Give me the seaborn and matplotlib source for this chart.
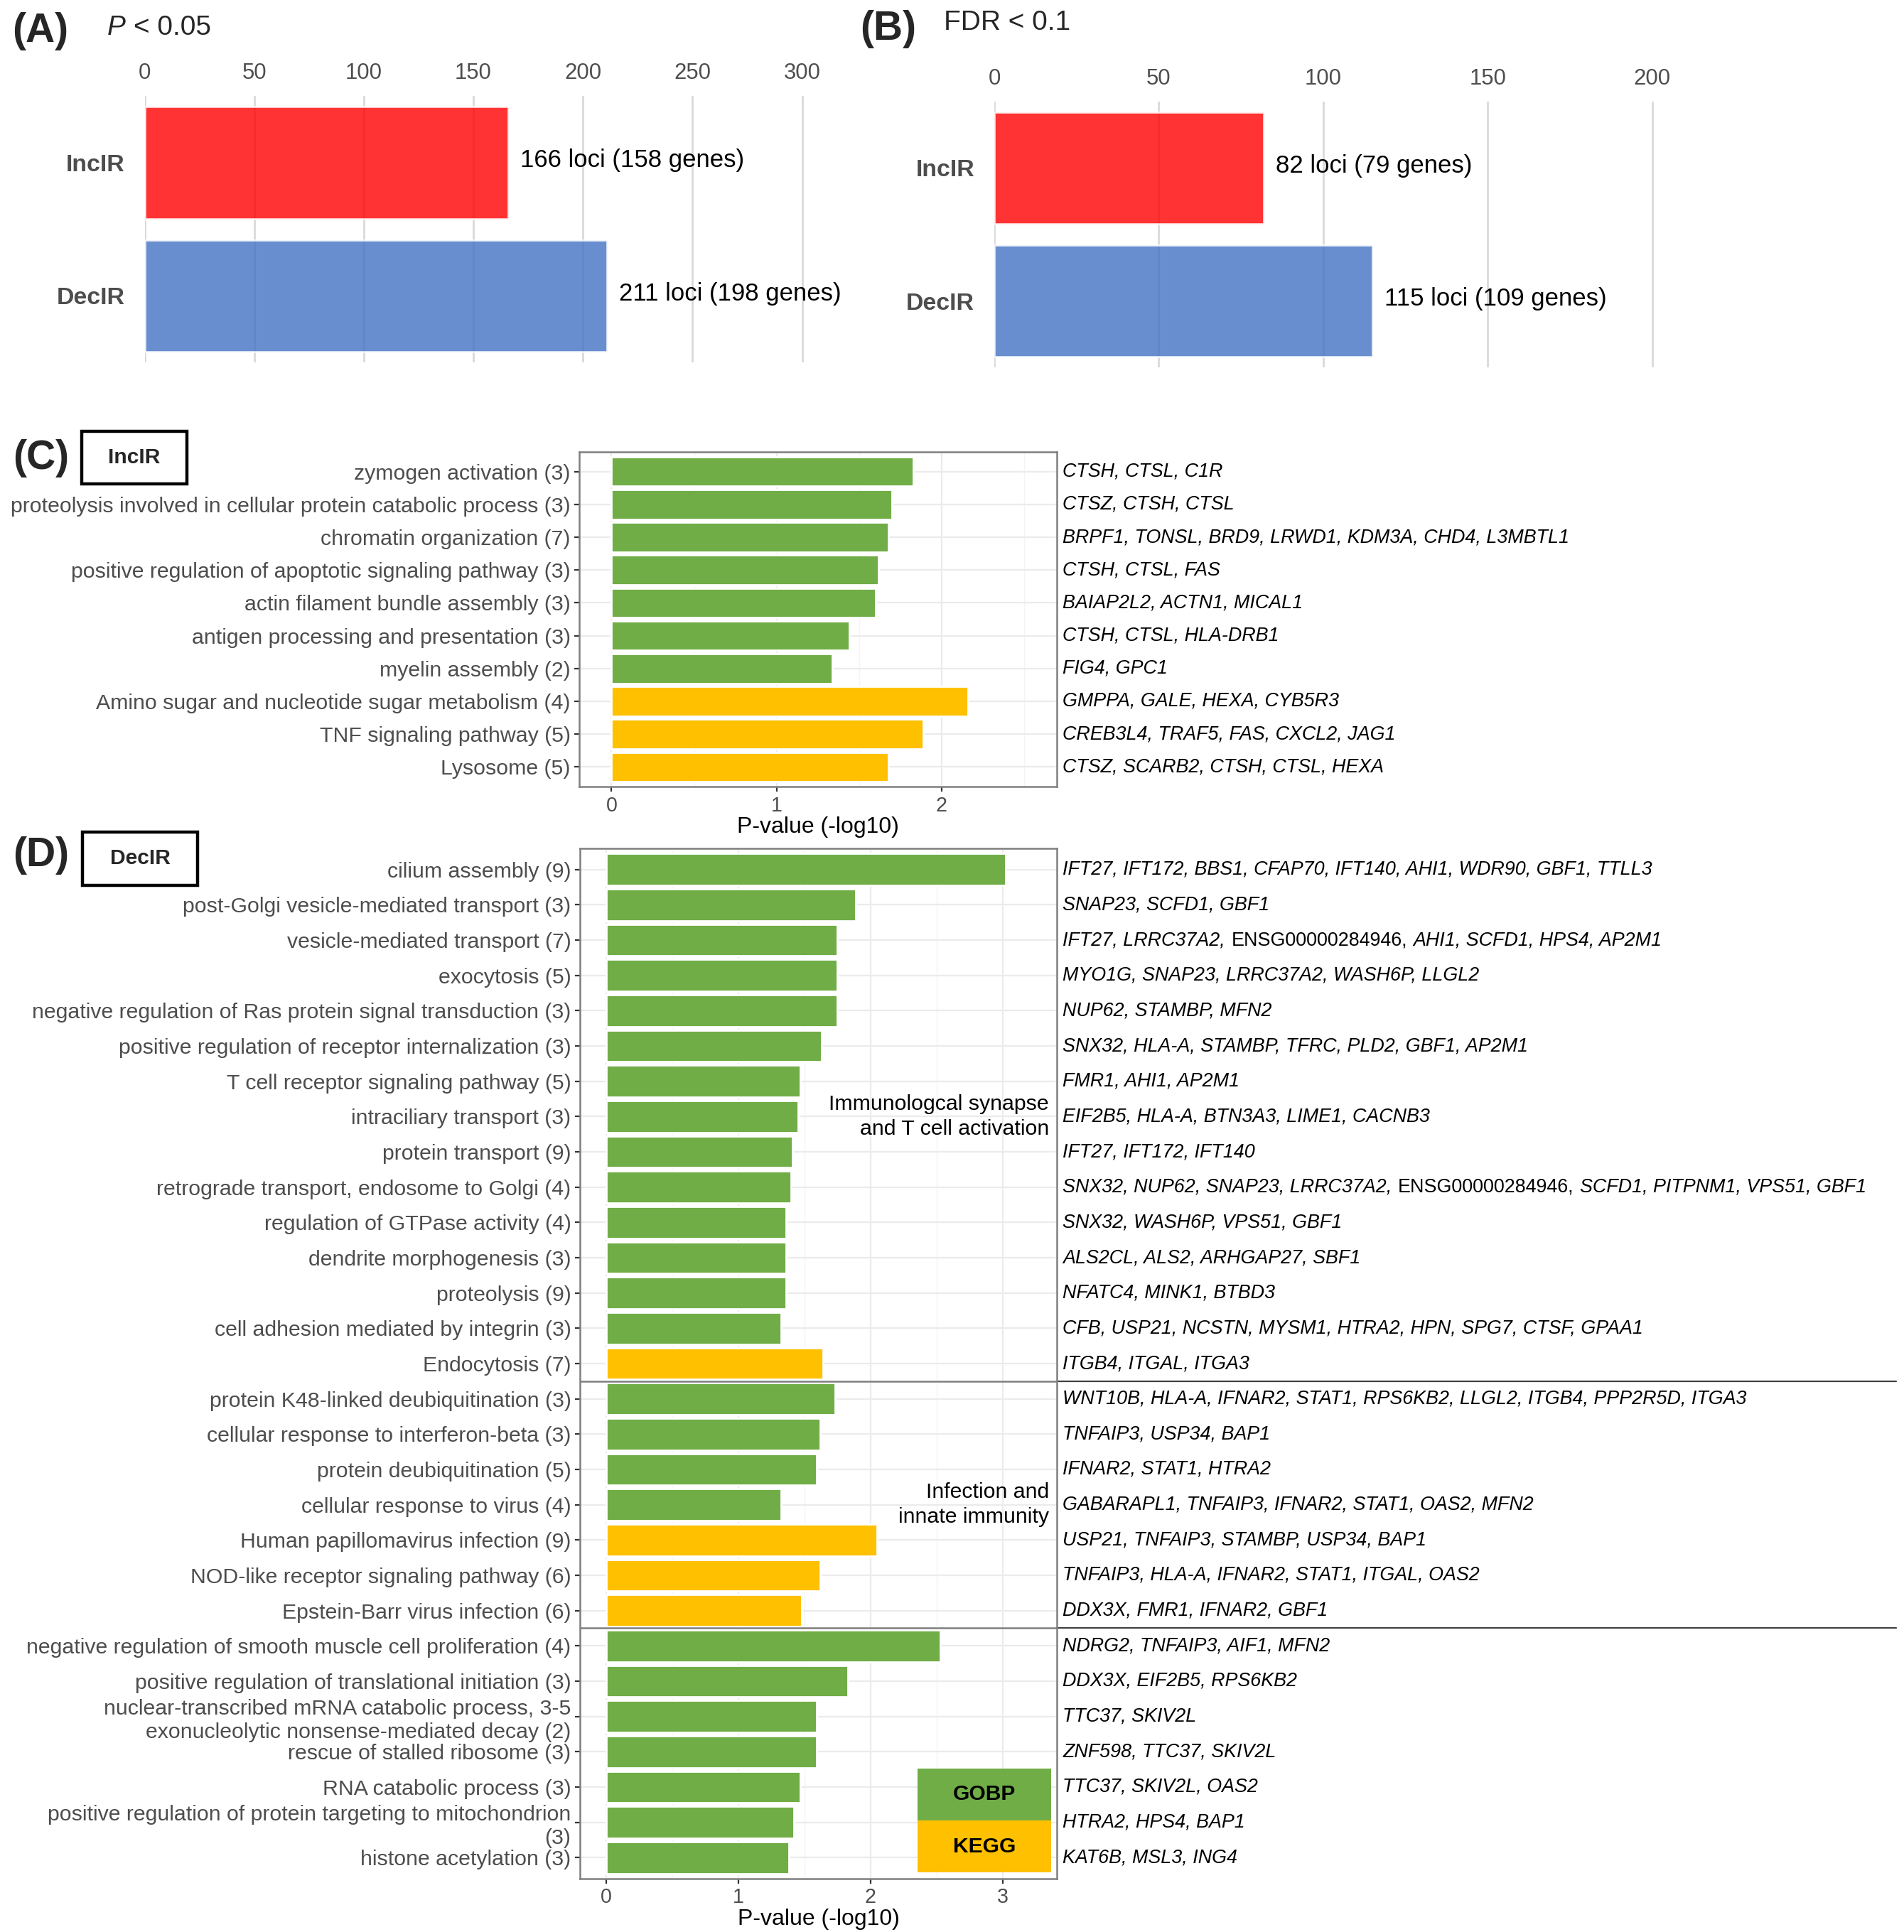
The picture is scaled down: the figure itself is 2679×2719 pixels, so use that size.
import numpy as np
import pandas as pd
import matplotlib
matplotlib.use("Agg")
import matplotlib.pyplot as plt
import matplotlib.transforms as mtransforms
from matplotlib.patches import Rectangle
import seaborn as sns

# ---- data: panels A and B ----
groups = ["IncIR", "DecIR"]
p_loci = [166, 211]
p_genes = [158, 198]
fdr_loci = [82, 115]
fdr_genes = [79, 109]

# ---- data: panel C (IncIR enrichment) ----
inc_terms = [
    "zymogen activation (3)",
    "proteolysis involved in cellular protein catabolic process (3)",
    "chromatin organization (7)",
    "positive regulation of apoptotic signaling pathway (3)",
    "actin filament bundle assembly (3)",
    "antigen processing and presentation (3)",
    "myelin assembly (2)",
    "Amino sugar and nucleotide sugar metabolism (4)",
    "TNF signaling pathway (5)",
    "Lysosome (5)",
]
inc_values = [1.83, 1.70, 1.68, 1.62, 1.60, 1.44, 1.34, 2.16, 1.89, 1.68]
inc_source = ["GOBP"] * 7 + ["KEGG"] * 3
inc_genes = [
    "CTSH, CTSL, C1R",
    "CTSZ, CTSH, CTSL",
    "BRPF1, TONSL, BRD9, LRWD1, KDM3A, CHD4, L3MBTL1",
    "CTSH, CTSL, FAS",
    "BAIAP2L2, ACTN1, MICAL1",
    "CTSH, CTSL, HLA-DRB1",
    "FIG4, GPC1",
    "GMPPA, GALE, HEXA, CYB5R3",
    "CREB3L4, TRAF5, FAS, CXCL2, JAG1",
    "CTSZ, SCARB2, CTSH, CTSL, HEXA",
]

# ---- data: panel D (DecIR enrichment) ----
dec_terms = [
    "cilium assembly (9)",
    "post-Golgi vesicle-mediated transport (3)",
    "vesicle-mediated transport (7)",
    "exocytosis (5)",
    "negative regulation of Ras protein signal transduction (3)",
    "positive regulation of receptor internalization (3)",
    "T cell receptor signaling pathway (5)",
    "intraciliary transport (3)",
    "protein transport (9)",
    "retrograde transport, endosome to Golgi (4)",
    "regulation of GTPase activity (4)",
    "dendrite morphogenesis (3)",
    "proteolysis (9)",
    "cell adhesion mediated by integrin (3)",
    "Endocytosis (7)",
    "protein K48-linked deubiquitination (3)",
    "cellular response to interferon-beta (3)",
    "protein deubiquitination (5)",
    "cellular response to virus (4)",
    "Human papillomavirus infection (9)",
    "NOD-like receptor signaling pathway (6)",
    "Epstein-Barr virus infection (6)",
    "negative regulation of smooth muscle cell proliferation (4)",
    "positive regulation of translational initiation (3)",
    "nuclear-transcribed mRNA catabolic process, 3-5\nexonucleolytic nonsense-mediated decay (2)",
    "rescue of stalled ribosome (3)",
    "RNA catabolic process (3)",
    "positive regulation of protein targeting to mitochondrion\n(3)",
    "histone acetylation (3)",
]
dec_values = [3.02, 1.89, 1.75, 1.75, 1.75, 1.63, 1.47, 1.45, 1.41, 1.40,
              1.36, 1.36, 1.36, 1.32, 1.64,
              1.73, 1.62, 1.59, 1.32, 2.05, 1.62, 1.48,
              2.53, 1.83, 1.59, 1.59, 1.47, 1.42, 1.38]
dec_source = (["GOBP"] * 14 + ["KEGG"]
              + ["GOBP"] * 4 + ["KEGG"] * 3
              + ["GOBP"] * 7)
dec_genes = [
    "IFT27, IFT172, BBS1, CFAP70, IFT140, AHI1, WDR90, GBF1, TTLL3",
    "SNAP23, SCFD1, GBF1",
    "IFT27, LRRC37A2, ENSG00000284946, AHI1, SCFD1, HPS4, AP2M1",
    "MYO1G, SNAP23, LRRC37A2, WASH6P, LLGL2",
    "NUP62, STAMBP, MFN2",
    "SNX32, HLA-A, STAMBP, TFRC, PLD2, GBF1, AP2M1",
    "FMR1, AHI1, AP2M1",
    "EIF2B5, HLA-A, BTN3A3, LIME1, CACNB3",
    "IFT27, IFT172, IFT140",
    "SNX32, NUP62, SNAP23, LRRC37A2, ENSG00000284946, SCFD1, PITPNM1, VPS51, GBF1",
    "SNX32, WASH6P, VPS51, GBF1",
    "ALS2CL, ALS2, ARHGAP27, SBF1",
    "NFATC4, MINK1, BTBD3",
    "CFB, USP21, NCSTN, MYSM1, HTRA2, HPN, SPG7, CTSF, GPAA1",
    "ITGB4, ITGAL, ITGA3",
    "WNT10B, HLA-A, IFNAR2, STAT1, RPS6KB2, LLGL2, ITGB4, PPP2R5D, ITGA3",
    "TNFAIP3, USP34, BAP1",
    "IFNAR2, STAT1, HTRA2",
    "GABARAPL1, TNFAIP3, IFNAR2, STAT1, OAS2, MFN2",
    "USP21, TNFAIP3, STAMBP, USP34, BAP1",
    "TNFAIP3, HLA-A, IFNAR2, STAT1, ITGAL, OAS2",
    "DDX3X, FMR1, IFNAR2, GBF1",
    "NDRG2, TNFAIP3, AIF1, MFN2",
    "DDX3X, EIF2B5, RPS6KB2",
    "TTC37, SKIV2L",
    "ZNF598, TTC37, SKIV2L",
    "TTC37, SKIV2L, OAS2",
    "HTRA2, HPS4, BAP1",
    "KAT6B, MSL3, ING4",
]
dec_cluster_sizes = [15, 7, 7]
dec_cluster_names = ["Immunologcal synapse\nand T cell activation",
                     "Infection and\ninnate immunity", ""]

source_colors = {"GOBP": "#70AD47", "KEGG": "#FFC000"}
group_colors = ["#FF0000", "#4472C4"]

W, H, DPI = 2679, 2719, 200

sns.set_theme(style="white")
plt.rcParams["font.family"] = ["Liberation Sans", "DejaVu Sans"]

fig = plt.figure(figsize=(W / DPI, H / DPI), dpi=DPI)


def add_axes_px(left, top, right, bottom):
    return fig.add_axes([left / W, 1 - bottom / H, (right - left) / W, (bottom - top) / H])


def count_panel(ax, loci, genes, xlim, xticks):
    df = pd.DataFrame({"group": groups, "loci": loci})
    sns.barplot(data=df, x="loci", y="group", hue="group", palette=group_colors,
                saturation=1, alpha=0.8, width=0.84, legend=False, ax=ax)
    ax.set_xlim(*xlim)
    ax.set_ylim(1.5, -0.5)
    ax.set_xticks(xticks)
    ax.xaxis.tick_top()
    ax.tick_params(axis="x", length=0, labelsize=11.2, labelcolor="#4D4D4D", pad=6)
    ax.tick_params(axis="y", length=0, labelsize=12.2, labelcolor="#4D4D4D", pad=10)
    for lbl in ax.get_yticklabels():
        lbl.set_fontweight("bold")
    ax.xaxis.grid(True, color="#D9D9D9", lw=1.0)
    ax.yaxis.grid(False)
    ax.set_axisbelow(True)
    for s in ax.spines.values():
        s.set_visible(False)
    ax.set_xlabel("")
    ax.set_ylabel("")
    for i, (l, g) in enumerate(zip(loci, genes)):
        ax.annotate(f"{l} loci ({g} genes)", xy=(l, i), xytext=(6, 1),
                    textcoords="offset points", va="center", fontsize=12.5, color="black")


def gene_pieces(genes):
    tokens = genes.split(", ")
    pieces = []
    for i, tok in enumerate(tokens):
        txt = tok + ("," if i < len(tokens) - 1 else "")
        style = "normal" if tok.startswith("ENSG") else "italic"
        if pieces and pieces[-1][1] == style:
            pieces[-1][0] += " " + txt
        else:
            pieces.append([txt, style])
    return pieces


def draw_genes(ax, row, genes):
    prev = None
    for txt, style in gene_pieces(genes):
        if prev is None:
            prev = ax.annotate(txt, xy=(1, row), xycoords=("axes fraction", "data"),
                               xytext=(3, 0), textcoords="offset points",
                               ha="left", va="center", fontsize=9.7, style=style,
                               color="black", annotation_clip=False)
        else:
            prev = ax.annotate(txt, xy=(1, row), xycoords=(prev, "data"),
                               xytext=(3.0, 0), textcoords="offset points",
                               ha="left", va="center", fontsize=9.7, style=style,
                               color="black", annotation_clip=False)


def enrichment_panel(ax, terms, values, sources, genes, xlim, xticks):
    df = pd.DataFrame({"term": terms, "value": values, "source": sources})
    sns.barplot(data=df, x="value", y="term", hue="source", palette=source_colors,
                dodge=False, width=0.9, saturation=1, legend=False, ax=ax, zorder=2)
    n = len(terms)
    ax.set_ylim(n - 0.4, -0.6)
    ax.set_xlim(*xlim)
    ax.set_xticks(xticks)
    ax.set_xticks(np.array(xticks[:-1]) + 0.5, minor=True)
    ax.grid(which="major", color="#EBEBEB", lw=0.8)
    ax.grid(which="minor", axis="x", color="#F4F4F4", lw=0.5)
    ax.set_axisbelow(True)
    ax.tick_params(axis="both", which="major", length=2.5, width=0.8, color="#333333",
                   labelcolor="#4D4D4D", pad=2, left=True, bottom=True)
    ax.tick_params(axis="y", labelsize=10.9)
    ax.tick_params(axis="x", labelsize=10.3)
    ax.tick_params(which="minor", length=0)
    for lbl in ax.get_yticklabels():
        lbl.set_linespacing(1.25)
    for s in ax.spines.values():
        s.set_color("#7F7F7F")
        s.set_linewidth(0.9)
    ax.set_xlabel("P-value (-log10)", fontsize=11.5, labelpad=0.5, color="black")
    ax.set_ylabel("")
    for i, g in enumerate(genes):
        draw_genes(ax, i, g)


# ---- panel A ----
axA = add_axes_px(203.5, 135, 1221, 510)
count_panel(axA, p_loci, p_genes, (0, 330), [0, 50, 100, 150, 200, 250, 300])

# ---- panel B ----
axB = add_axes_px(1399, 143, 2556, 517)
count_panel(axB, fdr_loci, fdr_genes, (0, 250), [0, 50, 100, 150, 200])

# ---- panel C ----
axC = add_axes_px(815, 636, 1487, 1107)
enrichment_panel(axC, inc_terms, inc_values, inc_source, inc_genes, (-0.196, 2.70), [0, 1, 2, 3])
axC.set_xlim(-0.196, 2.70)

# ---- panel D ----
axD = add_axes_px(816, 1194, 1487, 2644)
enrichment_panel(axD, dec_terms, dec_values, dec_source, dec_genes, (-0.2, 3.41), [0, 1, 2, 3, 4])
axD.set_xlim(-0.2, 3.41)

blend = mtransforms.blended_transform_factory(axD.transAxes, axD.transData)
starts = np.cumsum([0] + dec_cluster_sizes[:-1])
for start, size, name in zip(starts, dec_cluster_sizes, dec_cluster_names):
    if start > 0:
        axD.axhline(start - 0.5, color="#7F7F7F", lw=0.9, zorder=3)
        axD.plot([1, 2.76], [start - 0.5, start - 0.5], transform=blend,
                 clip_on=False, color="#404040", lw=0.8)
    if name:
        axD.annotate(name, xy=(1, start + (size - 1) / 2), xycoords=("axes fraction", "data"),
                     xytext=(-4, 0), textcoords="offset points", ha="right", va="center",
                     fontsize=10.9, color="black", linespacing=1.35, zorder=4)

# legend box (GOBP / KEGG)
leg = axD.inset_axes([0.708, 0.006, 0.28, 0.101])
leg.set_xlim(0, 1)
leg.set_ylim(0, 2)
for k, (name, col) in enumerate(source_colors.items()):
    yb = 1 - k
    leg.add_patch(Rectangle((0, yb), 1, 1, color=col, lw=0))
    leg.text(0.5, yb + 0.5, name, ha="center", va="center", fontsize=10.8,
             fontweight="bold", color="black")
leg.axis("off")

# ---- panel letters and titles ----
def fx(px):
    return px / W


def fy(py):
    return 1 - py / H


fig.text(fx(57), fy(44), "(A)", ha="center", va="center", fontsize=20.5, fontweight="bold")
pA = fig.text(fx(151), fy(39), "P", ha="left", va="center", fontsize=14, style="italic")
axA.annotate("< 0.05", xy=(1, fy(39)), xycoords=(pA, "figure fraction"), xytext=(4, 0),
             textcoords="offset points", ha="left", va="center", fontsize=14,
             annotation_clip=False)
fig.text(fx(1250), fy(41), "(B)", ha="center", va="center", fontsize=20.5, fontweight="bold")
fig.text(fx(1328), fy(32), "FDR < 0.1", ha="left", va="center", fontsize=14)

fig.text(fx(58), fy(645), "(C)", ha="center", va="center", fontsize=20.5, fontweight="bold")
fig.add_artist(Rectangle((fx(115), fy(681)), (263 - 115) / W, (681 - 607) / H,
                         transform=fig.transFigure, fill=False, lw=1.6, ec="black"))
fig.text(fx(189), fy(644), "IncIR", ha="center", va="center", fontsize=10.8, fontweight="bold")

fig.text(fx(58), fy(1204), "(D)", ha="center", va="center", fontsize=20.5, fontweight="bold")
fig.add_artist(Rectangle((fx(116), fy(1246)), (278 - 116) / W, (1246 - 1171) / H,
                         transform=fig.transFigure, fill=False, lw=1.6, ec="black"))
fig.text(fx(197), fy(1208), "DecIR", ha="center", va="center", fontsize=10.8, fontweight="bold")

fig.savefig("out.png", dpi=DPI, facecolor="white")
